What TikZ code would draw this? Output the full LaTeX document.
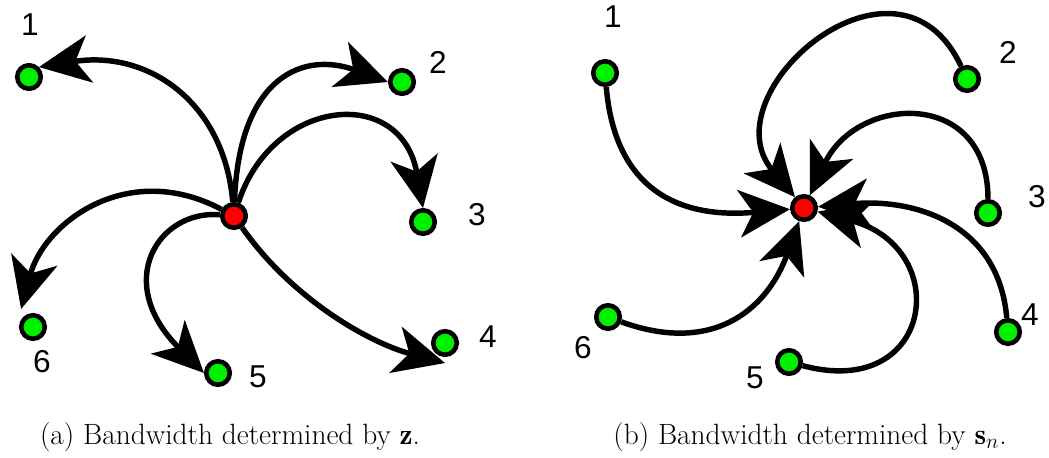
\documentclass[tikz,border=0pt]{standalone}
\usepackage{fontspec}
\newfontfamily\arialf{Liberation Sans}
\usetikzlibrary{arrows.meta}
\definecolor{ngreen}{RGB}{0,240,0}
\definecolor{nred}{RGB}{255,0,0}
\pgfdeclarelayer{bg}
\pgfsetlayers{bg,main}
\begin{document}
\begin{tikzpicture}[x=0.02cm,y=0.02cm,
  dotnode/.style={circle,draw=black,line width=2.6pt,minimum size=13.4pt,inner sep=0pt},
  gdot/.style={dotnode,fill=ngreen},
  rdot/.style={dotnode,fill=nred},
  conn/.style={line width=3.1pt,-{Stealth[length=29pt,width=27pt,inset=8pt]}},
  numlbl/.style={font=\arialf\fontsize{18}{21}\selectfont,inner sep=0pt},
  captxt/.style={font=\fontsize{16.7}{20}\selectfont,inner sep=0pt}]
\useasboundingbox (0,0) rectangle (1049,457);
% left diagram
\node[rdot] (c1) at (234,241) {};
\node[gdot] (g1) at (29,380) {};
\node[gdot] (g2) at (402,375) {};
\node[gdot] (g3) at (423,235) {};
\node[gdot] (g4) at (445,114) {};
\node[gdot] (g5) at (218,84) {};
\node[gdot] (g6) at (33,130) {};
\node[numlbl] (l1) at (30,432) {1};
\node[numlbl] (l2) at (438,395) {2};
\node[numlbl] (l3) at (477,242) {3};
\node[numlbl] (l4) at (488,120) {4};
\node[numlbl] (l5) at (258,80) {5};
\node[numlbl] (l6) at (42,95) {6};
% right diagram
\node[rdot] (c2) at (804,249) {};
\node[gdot] (h1) at (605,384) {};
\node[gdot] (h2) at (967,378) {};
\node[gdot] (h3) at (988,244) {};
\node[gdot] (h4) at (1008,125) {};
\node[gdot] (h5) at (789,95) {};
\node[gdot] (h6) at (608,140) {};
\node[numlbl] (r1) at (613,440) {1};
\node[numlbl] (r2) at (1008,405) {2};
\node[numlbl] (r3) at (1037,260) {3};
\node[numlbl] (r4) at (1030,142) {4};
\node[numlbl] (r5) at (755,79) {5};
\node[numlbl] (r6) at (583,109) {6};
% captions
\node[captxt] (capa) at (230,20) {(a) Bandwidth determined by $\mathbf{z}$.};
\node[captxt] (capb) at (810,20) {(b) Bandwidth determined by $\mathbf{s}_n$.};
\begin{pgfonlayer}{bg}
\draw[conn] (c1) .. controls +(95:115) and +(9:110) .. (g1.north east);
\draw[conn] (c1) .. controls +(88:140) and +(160:90) .. (g2.west);
\draw[conn] (c1) .. controls +(72:125) and +(100:125) .. (g3.north);
\draw[conn] (c1) .. controls +(-55:100) and +(165:80) .. ([yshift=-0.12cm]g4.south);
\draw[conn] (c1) .. controls +(175:75) and +(135:130) .. (g5.west);
\draw[conn] (c1) .. controls +(152:120) and +(75:90) .. ([shift={(-2,8)}]g6.north west);
\draw[conn] (h1) .. controls +(-85:130) and +(185:110) .. (c2);
\draw[conn] (h2) .. controls +(115:165) and +(130:150) .. (c2);
\draw[conn] (h3) .. controls +(90:125) and +(65:125) .. (c2);
\draw[conn] (h4) .. controls +(95:110) and +(5:110) .. (c2);
\draw[conn] (h5) .. controls +(-15:150) and +(-15:155) .. (c2);
\draw[conn] (h6) .. controls +(-20:110) and +(250:110) .. (c2);
\end{pgfonlayer}
\end{tikzpicture}
\end{document}
